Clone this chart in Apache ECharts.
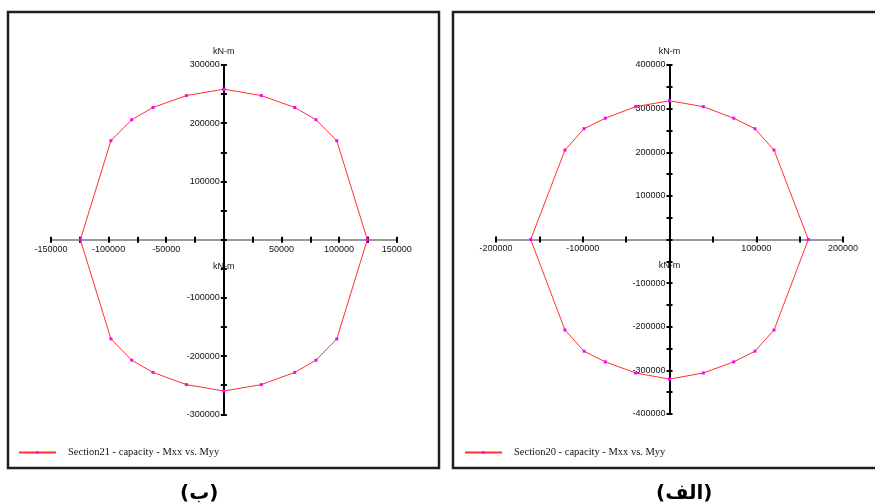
<!DOCTYPE html>
<html>
<head>
<meta charset="utf-8">
<script src="https://cdn.jsdelivr.net/npm/echarts@6/dist/echarts.min.js"></script>
<style>
html,body{margin:0;padding:0;background:#fff;}
#c{width:875px;height:504px;}
</style>
</head>
<body>
<div id="c"></div>
<script>
// ---- data ----
var sec21Name = 'Section21 - capacity - Mxx vs. Myy';
var sec21X = [0, 32500, 61500, 80000, 98000, 124500, 98000, 80000, 61500, 32500, 0, -32500, -61500, -80000, -98000, -124500, -98000, -80000, -61500, -32500, 0];
var sec21Y = [258500, 247500, 227000, 206000, 170000, 0, -170500, -207000, -228000, -249000, -260000, -249000, -228000, -207000, -170500, 0, 170000, 206000, 227000, 247500, 258500];

var sec20Name = 'Section20 - capacity - Mxx vs. Myy';
var sec20X = [0, 39000, 74000, 98500, 120500, 160000, 120500, 98500, 74000, 39000, 0, -39000, -74000, -98500, -120500, -160000, -120500, -98500, -74000, -39000, 0];
var sec20Y = [318000, 304500, 278000, 254000, 205000, 0, -207500, -256000, -280500, -306000, -320000, -306000, -280500, -256000, -207500, 0, 205000, 254000, 278000, 304500, 318000];

var unitName = 'kN-m';
var panelLabels = ['(ب)', '(الف)'];

function zip(xs, ys) { return xs.map(function (x, i) { return [x, ys[i]]; }); }

var axisFont = { fontFamily: 'Liberation Sans', fontSize: 9, color: '#111' };

// grid boxes (layout)
var grids = [
  { left: 51, top: 65, width: 345.7, height: 349.3 },
  { left: 496, top: 65, width: 347, height: 349 }
];

function xAxes(gridIndex, min, max, interval, labelStep) {
  var off = -grids[gridIndex].height / 2;
  var base = {
    type: 'value', gridIndex: gridIndex, min: min, max: max, interval: interval,
    splitLine: { show: false },
    axisTick: { lineStyle: { color: '#000', width: 2 }, length: 3 }
  };
  var a = Object.assign({}, base, {
    position: 'bottom', offset: off,
    axisLine: { onZero: false, lineStyle: { color: '#9a9a9a', width: 2 } },
    name: unitName, nameLocation: 'middle', nameGap: 22,
    nameTextStyle: axisFont,
    axisLabel: Object.assign({}, axisFont, {
      margin: 5,
      formatter: function (v) { return (v !== 0 && v % labelStep === 0) ? String(v) : ''; }
    })
  });
  var b = Object.assign({}, base, {
    position: 'top', offset: off,
    axisLine: { onZero: false, show: false },
    axisLabel: { show: false }
  });
  return [a, b];
}

function yAxes(gridIndex, min, max, interval, labelStep) {
  var off = -grids[gridIndex].width / 2;
  var base = {
    type: 'value', gridIndex: gridIndex, min: min, max: max, interval: interval,
    splitLine: { show: false },
    axisTick: { lineStyle: { color: '#000', width: 2 }, length: 3 }
  };
  var a = Object.assign({}, base, {
    position: 'left', offset: off,
    axisLine: { onZero: false, lineStyle: { color: '#000', width: 2 } },
    name: unitName, nameLocation: 'end', nameGap: 9,
    nameTextStyle: axisFont,
    axisLabel: Object.assign({}, axisFont, {
      margin: 4,
      formatter: function (v) { return (v !== 0 && v % labelStep === 0) ? String(v) : ''; }
    })
  });
  var b = Object.assign({}, base, {
    position: 'right', offset: off,
    axisLine: { onZero: false, show: false },
    axisLabel: { show: false }
  });
  return [a, b];
}

function series(name, data, xi, yi) {
  return {
    type: 'line', name: name, data: data,
    xAxisIndex: xi, yAxisIndex: yi,
    symbol: 'rect', symbolSize: 3,
    itemStyle: { color: '#ff00ff' },
    lineStyle: { color: '#ff3030', width: 1 },
    emphasis: { disabled: true },
    z: 5
  };
}

var chart = echarts.init(document.getElementById('c'), null, { renderer: 'canvas' });
var X0 = xAxes(0, -150000, 150000, 25000, 50000);
var X1 = xAxes(1, -200000, 200000, 50000, 100000);
var Y0 = yAxes(0, -300000, 300000, 50000, 100000);
var Y1 = yAxes(1, -400000, 400000, 50000, 100000);

var legendText = { fontFamily: 'Liberation Serif', fontSize: 10.5, color: '#111', padding: [0, 0, 0, 7] };

chart.setOption({
  animation: false,
  backgroundColor: '#fff',
  grid: grids,
  xAxis: [X0[0], X0[1], X1[0], X1[1]],
  yAxis: [Y0[0], Y0[1], Y1[0], Y1[1]],
  legend: [
    { data: [sec21Name], left: 18, top: 447, padding: 0, itemWidth: 37, itemHeight: 3, textStyle: legendText, selectedMode: false },
    { data: [sec20Name], left: 464, top: 447, padding: 0, itemWidth: 37, itemHeight: 3, textStyle: legendText, selectedMode: false }
  ],
  series: [
    series(sec21Name, zip(sec21X, sec21Y), 0, 0),
    series(sec20Name, zip(sec20X, sec20Y), 2, 2)
  ],
  graphic: [
    { type: 'rect', shape: { x: 8, y: 12, width: 431, height: 456 }, style: { fill: 'none', stroke: '#1e1e1e', lineWidth: 2.5 }, z: 0, silent: true },
    { type: 'rect', shape: { x: 453, y: 12, width: 430, height: 456 }, style: { fill: 'none', stroke: '#1e1e1e', lineWidth: 2.5 }, z: 0, silent: true },
    { type: 'text', left: 180, top: 484, style: { text: panelLabels[0], font: 'bold 20px "DejaVu Sans"', fill: '#000' }, silent: true },
    { type: 'text', left: 656, top: 484, style: { text: panelLabels[1], font: 'bold 20px "DejaVu Sans"', fill: '#000' }, silent: true }
  ]
});
</script>
</body>
</html>
